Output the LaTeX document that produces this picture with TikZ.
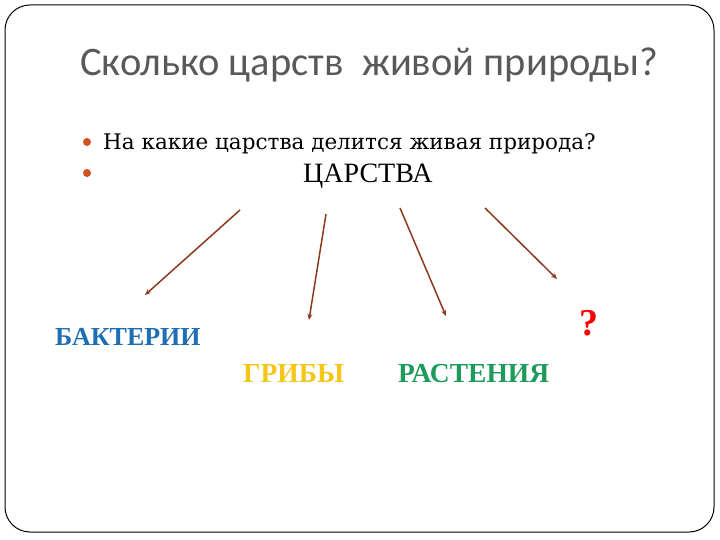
\documentclass[tikz,border=0pt]{standalone}
\usepackage{fontspec}
\setmainfont{Liberation Serif}
\newfontfamily\titlefont{Carlito}
\newfontfamily\quesfont{DejaVu Serif}
\usepackage{xcolor}
\usetikzlibrary{arrows.meta,positioning}
\definecolor{titlegray}{HTML}{595959}
\definecolor{bulletorange}{HTML}{D2511E}
\definecolor{arrowbrown}{HTML}{8B3A1E}
\definecolor{kingblue}{HTML}{1F6EB4}
\definecolor{kinggold}{HTML}{F5C518}
\definecolor{kinggreen}{HTML}{1E9A5A}
\tikzset{
    bullet/.style={circle, fill=bulletorange, inner sep=0pt, minimum size=8pt},
    kingdom/.style={anchor=base west, inner sep=0pt, font=\fontsize{26}{28}\selectfont\bfseries},
    toarrow/.style={draw=arrowbrown, line width=1.5pt, -{Stealth[length=6pt,width=5pt]}}
}

\begin{document}
\begin{tikzpicture}[x=1pt,y=-1pt]
                        \useasboundingbox (0,0) rectangle (720,540);
                        \draw[line width=1pt, rounded corners=25pt] (5,5) rectangle (714,532);
                        \node[anchor=base west, inner sep=0pt, text=titlegray,
                              font=\titlefont\fontsize{40.5}{44}\selectfont] (title) at (80,76)
                              {Сколько царств\ \ живой природы?};
                        \node[bullet] (b1) at (87,142) {};
                        \node[bullet] (b2) at (87,173) {};
                        \node[anchor=base west, inner sep=0pt, font=\quesfont\fontsize{21.5}{24}\selectfont] (ques) at (103,150)
                              {На какие царства делится живая природа?};
                        \node[anchor=base west, inner sep=0pt, font=\fontsize{28}{30}\selectfont] (tsar) at (303,183)
                              {ЦАРСТВА};
                        \node[kingdom, text=kingblue] (bact) at (55,345) {БАКТЕРИИ};
                        \node[kingdom, text=kinggold, font=\fontsize{27.5}{30}\selectfont\bfseries] (grib) at (243,382) {ГРИБЫ};
                        \node[kingdom, text=kinggreen, font=\fontsize{27.5}{30}\selectfont\bfseries] (rast) at (398,382) {РАСТЕНИЯ};
                        \node[anchor=base west, inner sep=0pt, text=red,
                              font=\fontsize{38}{40}\selectfont\bfseries] (unk) at (579,335) {?};
                        \coordinate (s1) at (240,210); \coordinate (e1) at (145,295);
                        \coordinate (s2) at (326,214); \coordinate (e2) at (309,320);
                        \coordinate (s3) at (400,208); \coordinate (e3) at (446,316);
                        \coordinate (s4) at (485,208); \coordinate (e4) at (557,279);
                        \draw[toarrow] (s1) -- (e1);
                        \draw[toarrow] (s2) -- (e2);
                        \draw[toarrow] (s3) -- (e3);
                        \draw[toarrow] (s4) -- (e4);
                    \end{tikzpicture}
\end{document}
